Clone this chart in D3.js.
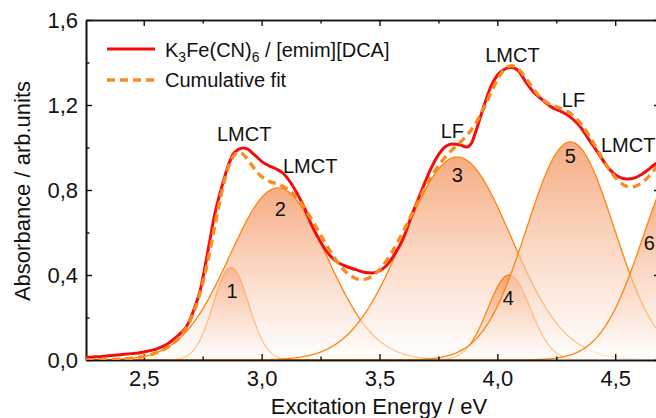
<!DOCTYPE html>
<html lang="en">
<head>
<meta charset="UTF-8" />
<title>K3Fe(CN)6 / [emim][DCA]</title>
<script src="https://d3js.org/d3.v7.min.js"></script>
<style>
  body { margin: 0; background: #fff; }
  text { font-family: "Liberation Sans", Arial, sans-serif; fill: #111; }
</style>
</head>
<body>
<svg width="656" height="418"></svg>
<script>
  // measured spectrum (eV, arb. units)
  const energy = [2.255, 2.30, 2.35, 2.40, 2.45, 2.50, 2.55, 2.60, 2.63, 2.66, 2.68, 2.70, 2.72, 2.74,
    2.76, 2.78, 2.80, 2.82, 2.84, 2.86, 2.88, 2.90, 2.92, 2.94, 2.96, 2.98, 3.00, 3.03, 3.06, 3.09,
    3.12, 3.15, 3.18, 3.21, 3.24, 3.27, 3.30, 3.33, 3.36, 3.40, 3.44, 3.47, 3.50, 3.53, 3.56, 3.60,
    3.64, 3.68, 3.72, 3.75, 3.78, 3.81, 3.84, 3.87, 3.89, 3.91, 3.94, 3.97, 4.00, 4.03, 4.06, 4.09,
    4.12, 4.15, 4.19, 4.23, 4.27, 4.31, 4.35, 4.39, 4.43, 4.47, 4.51, 4.55, 4.58, 4.61, 4.64, 4.67, 4.69];
  const absorbance = [0.012, 0.015, 0.02, 0.025, 0.03, 0.038, 0.05, 0.075, 0.10, 0.13, 0.155, 0.20, 0.26, 0.33,
    0.44, 0.56, 0.68, 0.77, 0.85, 0.92, 0.97, 0.99, 0.998, 0.993, 0.975, 0.955, 0.935, 0.915, 0.90, 0.88,
    0.84, 0.785, 0.72, 0.64, 0.575, 0.52, 0.48, 0.455, 0.44, 0.425, 0.412, 0.41, 0.42, 0.445, 0.49, 0.57,
    0.69, 0.80, 0.905, 0.965, 1.005, 1.017, 1.013, 1.002, 1.02, 1.08, 1.185, 1.28, 1.34, 1.368, 1.377, 1.36,
    1.31, 1.265, 1.225, 1.19, 1.17, 1.143, 1.10, 1.035, 0.97, 0.905, 0.865, 0.852, 0.856, 0.872, 0.895, 0.922, 0.93];

  // gaussian bands of the fit: centre (eV), height, FWHM (eV)
  const peakCenter = [2.87, 3.07, 3.83, 4.05, 4.31, 4.80];
  const peakHeight = [0.435, 0.81, 0.955, 0.40, 1.026, 0.965];
  const peakFwhm = [0.177, 0.483, 0.537, 0.212, 0.436, 0.424];

  const xTicks = [2.5, 3.0, 3.5, 4.0, 4.5];
  const xMinor = [2.75, 3.25, 3.75, 4.25];
  const yTicks = [0, 0.4, 0.8, 1.2, 1.6];
  const yMinor = [0.2, 0.6, 1.0, 1.4];

  // band assignments and peak numbers, placed in data coordinates
  const bandText = ["LMCT", "LMCT", "LF", "LMCT", "LF", "LMCT"];
  const bandE = [2.926, 3.206, 3.809, 4.064, 4.323, 4.555];
  const bandA = [1.031, 0.88, 1.045, 1.402, 1.19, 0.979];
  const peakNumE = [2.875, 3.079, 3.83, 4.047, 4.31, 4.645];
  const peakNumA = [0.292, 0.678, 0.838, 0.259, 0.927, 0.518];

  const svg = d3.select("svg");
  const plot = { left: 86, right: 660, top: 20, bottom: 360 };

  const x = d3.scaleLinear().domain([2.255, 4.69]).range([plot.left, plot.right]);
  const y = d3.scaleLinear().domain([0, 1.6]).range([plot.bottom, plot.top]);

  const gauss = (e, i) =>
    peakHeight[i] * Math.exp(-4 * Math.LN2 * (e - peakCenter[i]) ** 2 / peakFwhm[i] ** 2);

  const grid = d3.range(2.255, 4.6951, 0.004);
  const fit = grid.map(e => d3.sum(peakCenter, (c, i) => gauss(e, i)));

  const defs = svg.append("defs");
  defs.append("clipPath").attr("id", "clip")
    .append("rect")
    .attr("x", plot.left).attr("y", plot.top)
    .attr("width", plot.right - plot.left).attr("height", plot.bottom - plot.top);

  const grad = defs.append("linearGradient").attr("id", "bandFill")
    .attr("x1", 0).attr("y1", 0).attr("x2", 0).attr("y2", 1);
  grad.append("stop").attr("offset", 0).attr("stop-color", "#f2874a").attr("stop-opacity", 0.7);
  grad.append("stop").attr("offset", 1).attr("stop-color", "#ffffff").attr("stop-opacity", 0.55);

  const bands = svg.append("g").attr("clip-path", "url(#clip)");

  const area = d3.area().x(d => x(d[0])).y0(y(0)).y1(d => y(d[1]));
  const line = d3.line().x(d => x(d[0])).y(d => y(d[1]));
  const smooth = d3.line().x(d => x(d[0])).y(d => y(d[1])).curve(d3.curveMonotoneX);

  // each band: gradient fill, then its outline
  peakCenter.forEach((c, i) => {
    const pts = grid.map(e => [e, gauss(e, i)]);
    bands.append("path").attr("d", area(pts)).attr("fill", "url(#bandFill)");
    bands.append("path").attr("d", line(pts))
      .attr("fill", "none").attr("stroke", "#ff8410").attr("stroke-width", 1.3);
  });

  // frame with inward ticks
  const fmt = d => d3.format(".1f")(d).replace(".", ",");
  const styleAxis = g => {
    g.select(".domain").attr("stroke", "#111").attr("stroke-width", 1.6);
    g.selectAll(".tick line").attr("stroke", "#111").attr("stroke-width", 1.4);
    g.selectAll("text").attr("font-size", 22).attr("fill", "#111")
      .attr("font-family", "Liberation Sans, Arial, sans-serif");
  };

  svg.append("g").attr("transform", `translate(0,${plot.bottom})`)
    .call(d3.axisBottom(x).tickValues(xTicks).tickFormat(fmt)
      .tickSizeInner(-6).tickSizeOuter(0).tickPadding(10.5))
    .call(styleAxis);
  svg.append("g").attr("transform", `translate(0,${plot.bottom})`)
    .call(d3.axisBottom(x).tickValues(xMinor).tickFormat("").tickSizeInner(-3.5).tickSizeOuter(0))
    .call(styleAxis);
  svg.append("g").attr("transform", `translate(0,${plot.top})`)
    .call(d3.axisTop(x).tickValues(xTicks).tickFormat("").tickSizeInner(-6).tickSizeOuter(0))
    .call(styleAxis);
  svg.append("g").attr("transform", `translate(0,${plot.top})`)
    .call(d3.axisTop(x).tickValues(xMinor).tickFormat("").tickSizeInner(-3.5).tickSizeOuter(0))
    .call(styleAxis);

  svg.append("g").attr("transform", `translate(${plot.left},0)`)
    .call(d3.axisLeft(y).tickValues(yTicks).tickFormat(fmt)
      .tickSizeInner(-6).tickSizeOuter(0).tickPadding(8))
    .call(styleAxis);
  svg.append("g").attr("transform", `translate(${plot.left},0)`)
    .call(d3.axisLeft(y).tickValues(yMinor).tickFormat("").tickSizeInner(-3.5).tickSizeOuter(0))
    .call(styleAxis);
  svg.append("g").attr("transform", `translate(${plot.right},0)`)
    .call(d3.axisRight(y).tickValues(yTicks).tickFormat("").tickSizeInner(-6).tickSizeOuter(0))
    .call(styleAxis);
  svg.append("g").attr("transform", `translate(${plot.right},0)`)
    .call(d3.axisRight(y).tickValues(yMinor).tickFormat("").tickSizeInner(-3.5).tickSizeOuter(0))
    .call(styleAxis);

  // measured spectrum and cumulative fit
  const curves = svg.append("g").attr("clip-path", "url(#clip)");
  curves.append("path")
    .attr("d", smooth(energy.map((e, i) => [e, absorbance[i]])))
    .attr("fill", "none").attr("stroke", "#f50d0d").attr("stroke-width", 3)
    .attr("stroke-linejoin", "round");
  curves.append("path")
    .attr("d", line(grid.map((e, i) => [e, fit[i]])))
    .attr("fill", "none").attr("stroke", "#fb8a1f").attr("stroke-width", 3.4)
    .attr("stroke-dasharray", "8,5");

  // annotations
  svg.append("g").selectAll("text").data(bandText).join("text")
    .attr("x", (d, i) => x(bandE[i])).attr("y", (d, i) => y(bandA[i]))
    .attr("text-anchor", "middle").attr("font-size", 20).text(d => d);
  svg.append("g").selectAll("text").data(peakCenter).join("text")
    .attr("x", (d, i) => x(peakNumE[i])).attr("y", (d, i) => y(peakNumA[i]))
    .attr("text-anchor", "middle").attr("font-size", 20).text((d, i) => i + 1);

  // legend
  const legend = svg.append("g");
  legend.append("line").attr("x1", 107).attr("x2", 155).attr("y1", 49).attr("y2", 49)
    .attr("stroke", "#f50d0d").attr("stroke-width", 3);
  legend.append("line").attr("x1", 107).attr("x2", 155).attr("y1", 80).attr("y2", 80)
    .attr("stroke", "#fb8a1f").attr("stroke-width", 3.4).attr("stroke-dasharray", "8,5");
  const name = legend.append("text").attr("x", 165).attr("y", 57).attr("font-size", 20);
  name.append("tspan").text("K");
  name.append("tspan").attr("font-size", 14).attr("dy", 5).text("3");
  name.append("tspan").attr("dy", -5).text("Fe(CN)");
  name.append("tspan").attr("font-size", 14).attr("dy", 5).text("6");
  name.append("tspan").attr("dy", -5).text(" / [emim][DCA]");
  legend.append("text").attr("x", 165).attr("y", 87).attr("font-size", 20).text("Cumulative fit");

  // axis titles
  svg.append("text").attr("x", 379).attr("y", 414).attr("text-anchor", "middle")
    .attr("font-size", 22).text("Excitation Energy / eV");
  svg.append("text").attr("transform", "translate(30,191) rotate(-90)")
    .attr("text-anchor", "middle").attr("font-size", 22).text("Absorbance / arb.units");
</script>
</body>
</html>
